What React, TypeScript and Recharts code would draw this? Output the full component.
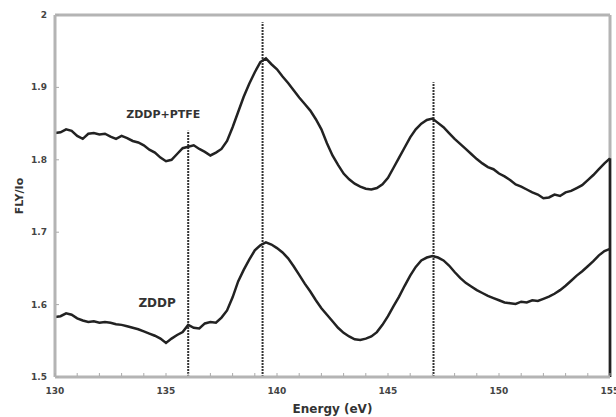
import React from 'react';
import { LineChart, Line, XAxis, YAxis, ReferenceLine, ReferenceDot } from 'recharts';

const energies = [
  130.0, 130.25, 130.5, 130.75, 131.0, 131.25, 131.5, 131.75, 132.0, 132.25,
  132.5, 132.75, 133.0, 133.25, 133.5, 133.75, 134.0, 134.25, 134.5, 134.75,
  135.0, 135.25, 135.5, 135.75, 136.0, 136.25, 136.5, 136.75, 137.0, 137.25,
  137.5, 137.75, 138.0, 138.25, 138.5, 138.75, 139.0, 139.25, 139.5, 139.75,
  140.0, 140.25, 140.5, 140.75, 141.0, 141.25, 141.5, 141.75, 142.0, 142.25,
  142.5, 142.75, 143.0, 143.25, 143.5, 143.75, 144.0, 144.25, 144.5, 144.75,
  145.0, 145.25, 145.5, 145.75, 146.0, 146.25, 146.5, 146.75, 147.0, 147.25,
  147.5, 147.75, 148.0, 148.25, 148.5, 148.75, 149.0, 149.25, 149.5, 149.75,
  150.0, 150.25, 150.5, 150.75, 151.0, 151.25, 151.5, 151.75, 152.0, 152.25,
  152.5, 152.75, 153.0, 153.25, 153.5, 153.75, 154.0, 154.25, 154.5, 154.75,
  155.0,
];

const zddpPtfe = [
  1.837, 1.838, 1.842, 1.840, 1.833, 1.829, 1.836, 1.837, 1.835, 1.836,
  1.832, 1.829, 1.833, 1.830, 1.826, 1.824, 1.820, 1.814, 1.810, 1.803,
  1.798, 1.800, 1.808, 1.816, 1.818, 1.820, 1.815, 1.811, 1.806, 1.810,
  1.815, 1.826, 1.845, 1.866, 1.887, 1.905, 1.921, 1.935, 1.940, 1.932,
  1.925, 1.915, 1.906, 1.896, 1.886, 1.877, 1.868, 1.856, 1.842, 1.823,
  1.806, 1.793, 1.781, 1.773, 1.767, 1.763, 1.760, 1.759, 1.761, 1.766,
  1.775, 1.789, 1.803, 1.817, 1.831, 1.842, 1.850, 1.855, 1.857, 1.851,
  1.845, 1.837, 1.829, 1.822, 1.815, 1.808, 1.801, 1.795, 1.790, 1.787,
  1.781, 1.777, 1.772, 1.766, 1.763, 1.759, 1.755, 1.752, 1.747, 1.748,
  1.752, 1.750, 1.755, 1.757, 1.761, 1.765, 1.772, 1.779, 1.787, 1.795,
  1.802,
];

const zddp = [
  1.583, 1.584, 1.588, 1.586, 1.581, 1.578, 1.576, 1.577, 1.575, 1.576,
  1.575, 1.573, 1.572, 1.570, 1.568, 1.566, 1.563, 1.560, 1.557, 1.553,
  1.547, 1.553, 1.558, 1.562, 1.572, 1.568, 1.567, 1.574, 1.576, 1.575,
  1.582, 1.592, 1.610, 1.632, 1.648, 1.662, 1.675, 1.682, 1.686, 1.683,
  1.678, 1.672, 1.664, 1.653, 1.641, 1.629, 1.618, 1.606, 1.595, 1.586,
  1.577, 1.568, 1.561, 1.556, 1.552, 1.551, 1.553, 1.556, 1.562, 1.572,
  1.584, 1.598, 1.611, 1.626, 1.640, 1.652, 1.661, 1.665, 1.667, 1.665,
  1.661, 1.654, 1.645, 1.637, 1.630, 1.625, 1.620, 1.616, 1.612, 1.609,
  1.606, 1.603, 1.602, 1.601, 1.604, 1.603, 1.606, 1.605, 1.608, 1.611,
  1.615, 1.620, 1.626, 1.633, 1.640, 1.646, 1.653, 1.660, 1.668, 1.674,
  1.677,
];

const xTicks = [130, 131, 132, 133, 134, 135, 136, 137, 138, 139, 140, 141, 142, 143, 144, 145, 146, 147, 148, 149, 150, 151, 152, 153, 154, 155];
const xLabelTicks = [130, 135, 140, 145, 150, 155];
const yTicks = [1.5, 1.6, 1.7, 1.8, 1.9, 2];
const yLabels = ['1.5', '1.6', '1.7', '1.8', '1.9', '2'];

// marker lines: [energy, top value]
const markerLines = [
  { e: 136.0, top: 1.84 },
  { e: 139.35, top: 1.99 },
  { e: 147.05, top: 1.907 },
];

const seriesLabels = [
  { text: 'ZDDP+PTFE', e: 134.88, v: 1.862, size: 11 },
  { text: 'ZDDP', e: 134.6, v: 1.602, size: 12 },
];

const data = energies.map((e, i) => ({ e, top: zddpPtfe[i], bottom: zddp[i] }));

const FONT = '"DejaVu Sans", Verdana, sans-serif';
const AXIS_GRAY = '#b4b4b4';

const XTick = (props: any) => {
  const { x, y, payload } = props;
  const v = payload.value;
  const show = xLabelTicks.includes(v);
  return (
    <g>
      <line x1={x} y1={y - 1} x2={x} y2={y - 4} stroke="#aaa" strokeWidth={1} />
      {show && (
        <text x={x} y={y + 17} textAnchor="middle" fontFamily={FONT} fontWeight="bold" fontSize={9} fill="#444">
          {v}
        </text>
      )}
    </g>
  );
};

const YTick = (props: any) => {
  const { x, y, payload } = props;
  const idx = yTicks.indexOf(payload.value);
  const label = idx >= 0 ? yLabels[idx] : String(payload.value);
  return (
    <g>
      <line x1={x + 1} y1={y} x2={x + 4} y2={y} stroke="#aaa" strokeWidth={1} />
      <text x={x - 8} y={y} dy={3} textAnchor="end" fontFamily={FONT} fontWeight="bold" fontSize={9} fill="#444">
        {label}
      </text>
    </g>
  );
};

export default function App() {
  return (
    <div style={{ position: 'absolute', left: 0, top: 0, width: 616, height: 417, background: '#fff' }}>
      <LineChart width={616} height={417} data={data} margin={{ top: 15, right: 6, bottom: 0, left: 0 }}>
        <XAxis
          dataKey="e"
          type="number"
          domain={[130, 155]}
          ticks={xTicks}
          interval={0}
          tickSize={0}
          tickMargin={0}
          tickLine={false}
          axisLine={{ stroke: AXIS_GRAY, strokeWidth: 3 }}
          tick={<XTick />}
          height={40}
          label={(p: any) => {
            const vb = p.viewBox || {};
            const cx = (vb.x ?? 55) + (vb.width ?? 555) / 2;
            const cy = (vb.y ?? 377) + 36;
            return (
              <text x={cx} y={cy} textAnchor="middle" fontFamily={FONT} fontWeight="bold" fontSize={12} fill="#333">
                Energy (eV)
              </text>
            );
          }}
        />
        <YAxis
          type="number"
          domain={[1.5, 2]}
          ticks={yTicks}
          interval={0}
          tickSize={0}
          tickMargin={0}
          tickLine={false}
          axisLine={{ stroke: AXIS_GRAY, strokeWidth: 3 }}
          tick={<YTick />}
          width={55}
          label={(p: any) => {
            const vb = p.viewBox || {};
            const cy = (vb.y ?? 15) + (vb.height ?? 362) / 2;
            return (
              <text x={19} y={cy} transform={`rotate(-90 19 ${cy})`} textAnchor="middle" dominantBaseline="central" fontFamily={FONT} fontWeight="bold" fontSize={11} fill="#333">
                FLY/Io
              </text>
            );
          }}
        />
        <ReferenceLine y={2} stroke={AXIS_GRAY} strokeWidth={3} />
        <ReferenceLine x={155} stroke={AXIS_GRAY} strokeWidth={3} />
        {markerLines.map((m) => (
          <ReferenceLine
            key={m.e}
            segment={[{ x: m.e, y: 1.5 }, { x: m.e, y: m.top }]}
            stroke="#333"
            strokeWidth={2}
            strokeDasharray="2 1"
          />
        ))}
        <ReferenceLine segment={[{ x: 155, y: 1.5 }, { x: 155, y: zddpPtfe[zddpPtfe.length - 1] }]} stroke="#222" strokeWidth={2.5} />
        <Line type="linear" dataKey="top" stroke="#222" strokeWidth={2.5} dot={false} isAnimationActive={false} />
        <Line type="linear" dataKey="bottom" stroke="#222" strokeWidth={2.5} dot={false} isAnimationActive={false} />
        {seriesLabels.map((s) => (
          <ReferenceDot
            key={s.text}
            x={s.e}
            y={s.v}
            r={0}
            stroke="none"
            fill="none"
            label={(p: any) => {
              const vb = p.viewBox || {};
              const cx = vb.cx ?? vb.x ?? 0;
              const cy = vb.cy ?? vb.y ?? 0;
              return (
                <text x={cx} y={cy} textAnchor="middle" dominantBaseline="central" fontFamily={FONT} fontWeight="bold" fontSize={s.size} fill="#333">
                  {s.text}
                </text>
              );
            }}
          />
        ))}
      </LineChart>
    </div>
  );
}
